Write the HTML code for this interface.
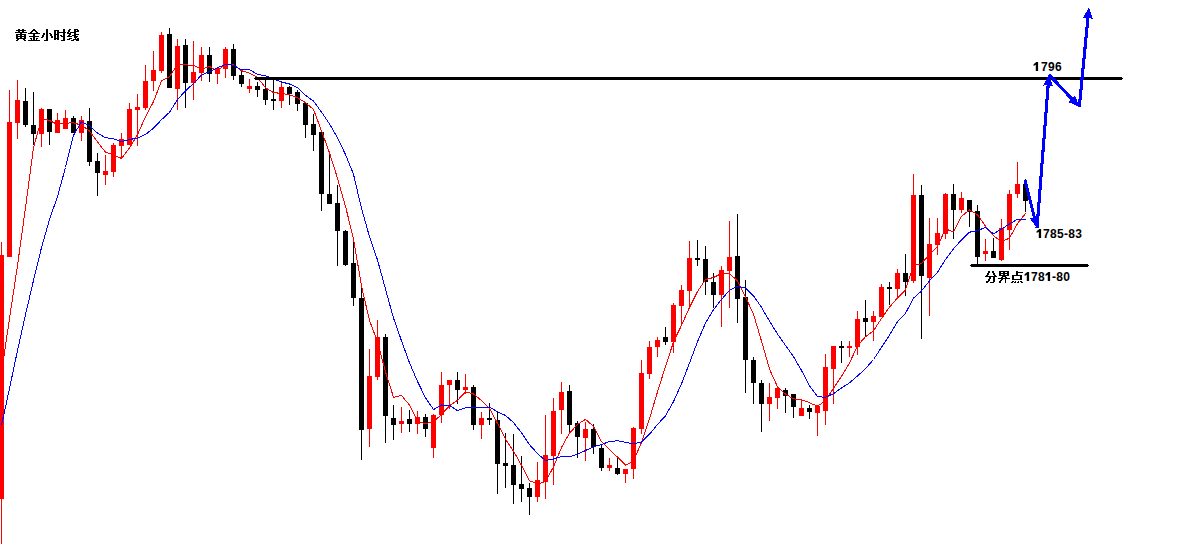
<!DOCTYPE html>
<html><head><meta charset="utf-8"><style>
html,body{margin:0;padding:0;background:#fff;width:1190px;height:553px;overflow:hidden}
svg{display:block;position:absolute;left:0;top:0}
.one{position:relative;color:transparent}
.one svg{position:absolute;left:0;top:0;overflow:visible;fill:#000}
.t{position:absolute;font-family:"Liberation Sans",sans-serif;font-weight:bold;font-size:12px;color:#000;line-height:12px;white-space:nowrap;letter-spacing:0.3px}
</style></head><body>
<svg width="1190" height="553" viewBox="0 0 1190 553" shape-rendering="crispEdges">
<rect width="1190" height="553" fill="#fff"/>
<rect x="1" y="242.0" width="1" height="302.0" fill="#f00"/>
<rect x="-1" y="255.0" width="5" height="244.0" fill="#f00"/>
<rect x="9" y="90.0" width="1" height="167.0" fill="#f00"/>
<rect x="7" y="122.0" width="5" height="135.0" fill="#f00"/>
<rect x="17" y="80.0" width="1" height="59.0" fill="#f00"/>
<rect x="15" y="100.0" width="5" height="23.0" fill="#f00"/>
<rect x="25" y="88.0" width="1" height="39.0" fill="#000"/>
<rect x="23" y="101.0" width="5" height="24.0" fill="#000"/>
<rect x="33" y="92.0" width="1" height="53.0" fill="#000"/>
<rect x="31" y="125.0" width="5" height="9.0" fill="#000"/>
<rect x="41" y="108.0" width="1" height="39.0" fill="#f00"/>
<rect x="39" y="109.0" width="5" height="25.0" fill="#f00"/>
<rect x="49" y="109.0" width="1" height="36.0" fill="#000"/>
<rect x="47" y="109.0" width="5" height="23.0" fill="#000"/>
<rect x="57" y="113.0" width="1" height="20.0" fill="#f00"/>
<rect x="55" y="120.0" width="5" height="13.0" fill="#f00"/>
<rect x="65" y="110.0" width="1" height="19.0" fill="#f00"/>
<rect x="63" y="118.0" width="5" height="11.0" fill="#f00"/>
<rect x="73" y="116.0" width="1" height="17.0" fill="#000"/>
<rect x="71" y="118.0" width="5" height="15.0" fill="#000"/>
<rect x="81" y="116.0" width="1" height="25.0" fill="#f00"/>
<rect x="79" y="120.0" width="5" height="13.0" fill="#f00"/>
<rect x="89" y="108.0" width="1" height="58.0" fill="#000"/>
<rect x="87" y="121.0" width="5" height="41.0" fill="#000"/>
<rect x="97" y="153.0" width="1" height="43.0" fill="#000"/>
<rect x="95" y="161.0" width="5" height="12.0" fill="#000"/>
<rect x="105" y="155.0" width="1" height="30.0" fill="#f00"/>
<rect x="103" y="171.0" width="5" height="4.0" fill="#f00"/>
<rect x="113" y="143.0" width="1" height="34.0" fill="#f00"/>
<rect x="111" y="145.0" width="5" height="27.0" fill="#f00"/>
<rect x="121" y="133.0" width="1" height="25.0" fill="#f00"/>
<rect x="119" y="139.0" width="5" height="7.0" fill="#f00"/>
<rect x="129" y="103.0" width="1" height="42.0" fill="#f00"/>
<rect x="127" y="109.0" width="5" height="36.0" fill="#f00"/>
<rect x="137" y="94.0" width="1" height="52.0" fill="#f00"/>
<rect x="135" y="107.0" width="5" height="3.0" fill="#f00"/>
<rect x="145" y="65.0" width="1" height="45.0" fill="#f00"/>
<rect x="143" y="81.0" width="5" height="27.0" fill="#f00"/>
<rect x="153" y="51.0" width="1" height="40.0" fill="#f00"/>
<rect x="151" y="70.0" width="5" height="11.0" fill="#f00"/>
<rect x="161" y="32.0" width="1" height="41.0" fill="#f00"/>
<rect x="159" y="35.0" width="5" height="36.0" fill="#f00"/>
<rect x="169" y="28.0" width="1" height="60.0" fill="#000"/>
<rect x="167" y="34.0" width="5" height="54.0" fill="#000"/>
<rect x="177" y="39.0" width="1" height="71.0" fill="#f00"/>
<rect x="175" y="46.0" width="5" height="43.0" fill="#f00"/>
<rect x="185" y="39.0" width="1" height="69.0" fill="#000"/>
<rect x="183" y="45.0" width="5" height="38.0" fill="#000"/>
<rect x="193" y="41.0" width="1" height="59.0" fill="#f00"/>
<rect x="191" y="72.0" width="5" height="11.0" fill="#f00"/>
<rect x="201" y="47.0" width="1" height="34.0" fill="#f00"/>
<rect x="199" y="55.0" width="5" height="18.0" fill="#f00"/>
<rect x="209" y="47.0" width="1" height="35.0" fill="#000"/>
<rect x="207" y="55.0" width="5" height="19.0" fill="#000"/>
<rect x="217" y="67.0" width="1" height="17.0" fill="#f00"/>
<rect x="215" y="68.0" width="5" height="6.0" fill="#f00"/>
<rect x="225" y="47.0" width="1" height="31.0" fill="#f00"/>
<rect x="223" y="49.0" width="5" height="20.0" fill="#f00"/>
<rect x="233" y="44.0" width="1" height="36.0" fill="#000"/>
<rect x="231" y="49.0" width="5" height="27.0" fill="#000"/>
<rect x="241" y="70.0" width="1" height="17.0" fill="#000"/>
<rect x="239" y="75.0" width="5" height="9.0" fill="#000"/>
<rect x="249" y="79.0" width="1" height="14.0" fill="#f00"/>
<rect x="247" y="86.0" width="5" height="3.0" fill="#f00"/>
<rect x="257" y="82.0" width="1" height="15.0" fill="#000"/>
<rect x="255" y="86.0" width="5" height="4.0" fill="#000"/>
<rect x="265" y="80.0" width="1" height="25.0" fill="#000"/>
<rect x="263" y="89.0" width="5" height="11.0" fill="#000"/>
<rect x="273" y="79.0" width="1" height="31.0" fill="#000"/>
<rect x="271" y="99.0" width="5" height="2.0" fill="#000"/>
<rect x="281" y="82.0" width="1" height="26.0" fill="#f00"/>
<rect x="279" y="87.0" width="5" height="14.0" fill="#f00"/>
<rect x="289" y="86.0" width="1" height="19.0" fill="#000"/>
<rect x="287" y="87.0" width="5" height="7.0" fill="#000"/>
<rect x="297" y="90.0" width="1" height="21.0" fill="#000"/>
<rect x="295" y="92.0" width="5" height="12.0" fill="#000"/>
<rect x="305" y="102.0" width="1" height="36.0" fill="#000"/>
<rect x="303" y="103.0" width="5" height="22.0" fill="#000"/>
<rect x="313" y="114.0" width="1" height="37.0" fill="#000"/>
<rect x="311" y="124.0" width="5" height="11.0" fill="#000"/>
<rect x="321" y="132.0" width="1" height="79.0" fill="#000"/>
<rect x="319" y="132.0" width="5" height="62.0" fill="#000"/>
<rect x="329" y="155.0" width="1" height="49.0" fill="#000"/>
<rect x="327" y="194.0" width="5" height="10.0" fill="#000"/>
<rect x="337" y="185.0" width="1" height="81.0" fill="#000"/>
<rect x="335" y="203.0" width="5" height="28.0" fill="#000"/>
<rect x="345" y="230.0" width="1" height="36.0" fill="#000"/>
<rect x="343" y="231.0" width="5" height="34.0" fill="#000"/>
<rect x="353" y="241.0" width="1" height="65.0" fill="#000"/>
<rect x="351" y="263.0" width="5" height="35.0" fill="#000"/>
<rect x="361" y="287.0" width="1" height="173.0" fill="#000"/>
<rect x="359" y="298.0" width="5" height="132.0" fill="#000"/>
<rect x="369" y="349.0" width="1" height="98.0" fill="#f00"/>
<rect x="367" y="376.0" width="5" height="53.0" fill="#f00"/>
<rect x="377" y="320.0" width="1" height="60.0" fill="#f00"/>
<rect x="375" y="337.0" width="5" height="40.0" fill="#f00"/>
<rect x="385" y="334.0" width="1" height="109.0" fill="#000"/>
<rect x="383" y="337.0" width="5" height="79.0" fill="#000"/>
<rect x="393" y="405.0" width="1" height="35.0" fill="#000"/>
<rect x="391" y="418.0" width="5" height="7.0" fill="#000"/>
<rect x="401" y="407.0" width="1" height="26.0" fill="#f00"/>
<rect x="399" y="421.0" width="5" height="3.0" fill="#f00"/>
<rect x="409" y="410.0" width="1" height="22.0" fill="#000"/>
<rect x="407" y="419.0" width="5" height="5.0" fill="#000"/>
<rect x="417" y="411.0" width="1" height="23.0" fill="#f00"/>
<rect x="415" y="417.0" width="5" height="7.0" fill="#f00"/>
<rect x="425" y="414.0" width="1" height="23.0" fill="#000"/>
<rect x="423" y="417.0" width="5" height="12.0" fill="#000"/>
<rect x="433" y="414.0" width="1" height="44.0" fill="#f00"/>
<rect x="431" y="415.0" width="5" height="33.0" fill="#f00"/>
<rect x="441" y="372.0" width="1" height="51.0" fill="#f00"/>
<rect x="439" y="385.0" width="5" height="30.0" fill="#f00"/>
<rect x="449" y="380.0" width="1" height="29.0" fill="#f00"/>
<rect x="447" y="380.0" width="5" height="5.0" fill="#f00"/>
<rect x="457" y="372.0" width="1" height="32.0" fill="#000"/>
<rect x="455" y="380.0" width="5" height="10.0" fill="#000"/>
<rect x="465" y="374.0" width="1" height="20.0" fill="#f00"/>
<rect x="463" y="387.0" width="5" height="3.0" fill="#f00"/>
<rect x="473" y="385.0" width="1" height="45.0" fill="#000"/>
<rect x="471" y="387.0" width="5" height="38.0" fill="#000"/>
<rect x="481" y="412.0" width="1" height="27.0" fill="#f00"/>
<rect x="479" y="418.0" width="5" height="7.0" fill="#f00"/>
<rect x="489" y="403.0" width="1" height="22.0" fill="#000"/>
<rect x="487" y="418.0" width="5" height="2.0" fill="#000"/>
<rect x="497" y="412.0" width="1" height="82.0" fill="#000"/>
<rect x="495" y="420.0" width="5" height="44.0" fill="#000"/>
<rect x="505" y="433.0" width="1" height="55.0" fill="#000"/>
<rect x="503" y="463.0" width="5" height="3.0" fill="#000"/>
<rect x="513" y="434.0" width="1" height="70.0" fill="#000"/>
<rect x="511" y="465.0" width="5" height="20.0" fill="#000"/>
<rect x="521" y="456.0" width="1" height="46.0" fill="#000"/>
<rect x="519" y="484.0" width="5" height="5.0" fill="#000"/>
<rect x="529" y="483.0" width="1" height="32.0" fill="#000"/>
<rect x="527" y="488.0" width="5" height="9.0" fill="#000"/>
<rect x="537" y="462.0" width="1" height="40.0" fill="#f00"/>
<rect x="535" y="480.0" width="5" height="17.0" fill="#f00"/>
<rect x="545" y="415.0" width="1" height="84.0" fill="#f00"/>
<rect x="543" y="455.0" width="5" height="27.0" fill="#f00"/>
<rect x="553" y="398.0" width="1" height="87.0" fill="#f00"/>
<rect x="551" y="411.0" width="5" height="45.0" fill="#f00"/>
<rect x="561" y="382.0" width="1" height="52.0" fill="#f00"/>
<rect x="559" y="392.0" width="5" height="18.0" fill="#f00"/>
<rect x="569" y="385.0" width="1" height="47.0" fill="#000"/>
<rect x="567" y="391.0" width="5" height="34.0" fill="#000"/>
<rect x="577" y="421.0" width="1" height="37.0" fill="#000"/>
<rect x="575" y="423.0" width="5" height="14.0" fill="#000"/>
<rect x="585" y="422.0" width="1" height="39.0" fill="#f00"/>
<rect x="583" y="429.0" width="5" height="9.0" fill="#f00"/>
<rect x="593" y="424.0" width="1" height="30.0" fill="#000"/>
<rect x="591" y="429.0" width="5" height="18.0" fill="#000"/>
<rect x="601" y="444.0" width="1" height="27.0" fill="#000"/>
<rect x="599" y="448.0" width="5" height="20.0" fill="#000"/>
<rect x="609" y="458.0" width="1" height="13.0" fill="#f00"/>
<rect x="607" y="465.0" width="5" height="3.0" fill="#f00"/>
<rect x="617" y="456.0" width="1" height="19.0" fill="#000"/>
<rect x="615" y="468.0" width="5" height="6.0" fill="#000"/>
<rect x="625" y="469.0" width="1" height="14.0" fill="#f00"/>
<rect x="623" y="469.0" width="5" height="5.0" fill="#f00"/>
<rect x="633" y="427.0" width="1" height="52.0" fill="#f00"/>
<rect x="631" y="428.0" width="5" height="41.0" fill="#f00"/>
<rect x="641" y="360.0" width="1" height="74.0" fill="#f00"/>
<rect x="639" y="373.0" width="5" height="56.0" fill="#f00"/>
<rect x="649" y="341.0" width="1" height="38.0" fill="#f00"/>
<rect x="647" y="347.0" width="5" height="27.0" fill="#f00"/>
<rect x="657" y="337.0" width="1" height="20.0" fill="#f00"/>
<rect x="655" y="340.0" width="5" height="7.0" fill="#f00"/>
<rect x="665" y="327.0" width="1" height="18.0" fill="#000"/>
<rect x="663" y="337.0" width="5" height="5.0" fill="#000"/>
<rect x="673" y="303.0" width="1" height="50.0" fill="#f00"/>
<rect x="671" y="305.0" width="5" height="37.0" fill="#f00"/>
<rect x="681" y="285.0" width="1" height="41.0" fill="#f00"/>
<rect x="679" y="290.0" width="5" height="16.0" fill="#f00"/>
<rect x="689" y="241.0" width="1" height="66.0" fill="#f00"/>
<rect x="687" y="258.0" width="5" height="33.0" fill="#f00"/>
<rect x="697" y="240.0" width="1" height="26.0" fill="#000"/>
<rect x="695" y="258.0" width="5" height="2.0" fill="#000"/>
<rect x="705" y="246.0" width="1" height="49.0" fill="#000"/>
<rect x="703" y="259.0" width="5" height="23.0" fill="#000"/>
<rect x="713" y="273.0" width="1" height="35.0" fill="#000"/>
<rect x="711" y="282.0" width="5" height="13.0" fill="#000"/>
<rect x="721" y="266.0" width="1" height="61.0" fill="#f00"/>
<rect x="719" y="270.0" width="5" height="25.0" fill="#f00"/>
<rect x="729" y="221.0" width="1" height="87.0" fill="#f00"/>
<rect x="727" y="257.0" width="5" height="14.0" fill="#f00"/>
<rect x="737" y="214.0" width="1" height="109.0" fill="#000"/>
<rect x="735" y="256.0" width="5" height="43.0" fill="#000"/>
<rect x="745" y="280.0" width="1" height="113.0" fill="#000"/>
<rect x="743" y="297.0" width="5" height="63.0" fill="#000"/>
<rect x="753" y="357.0" width="1" height="47.0" fill="#000"/>
<rect x="751" y="360.0" width="5" height="23.0" fill="#000"/>
<rect x="761" y="380.0" width="1" height="52.0" fill="#000"/>
<rect x="759" y="383.0" width="5" height="21.0" fill="#000"/>
<rect x="769" y="383.0" width="1" height="38.0" fill="#f00"/>
<rect x="767" y="397.0" width="5" height="7.0" fill="#f00"/>
<rect x="777" y="387.0" width="1" height="22.0" fill="#f00"/>
<rect x="775" y="388.0" width="5" height="10.0" fill="#f00"/>
<rect x="785" y="388.0" width="1" height="25.0" fill="#000"/>
<rect x="783" y="390.0" width="5" height="6.0" fill="#000"/>
<rect x="793" y="394.0" width="1" height="24.0" fill="#000"/>
<rect x="791" y="394.0" width="5" height="13.0" fill="#000"/>
<rect x="801" y="400.0" width="1" height="16.0" fill="#f00"/>
<rect x="799" y="408.0" width="5" height="8.0" fill="#f00"/>
<rect x="809" y="405.0" width="1" height="14.0" fill="#000"/>
<rect x="807" y="408.0" width="5" height="4.0" fill="#000"/>
<rect x="817" y="405.0" width="1" height="31.0" fill="#f00"/>
<rect x="815" y="406.0" width="5" height="7.0" fill="#f00"/>
<rect x="825" y="354.0" width="1" height="71.0" fill="#f00"/>
<rect x="823" y="367.0" width="5" height="44.0" fill="#f00"/>
<rect x="833" y="346.0" width="1" height="58.0" fill="#f00"/>
<rect x="831" y="346.0" width="5" height="23.0" fill="#f00"/>
<rect x="841" y="341.0" width="1" height="22.0" fill="#000"/>
<rect x="839" y="346.0" width="5" height="2.0" fill="#000"/>
<rect x="849" y="341.0" width="1" height="16.0" fill="#f00"/>
<rect x="847" y="346.0" width="5" height="2.0" fill="#f00"/>
<rect x="857" y="311.0" width="1" height="44.0" fill="#f00"/>
<rect x="855" y="319.0" width="5" height="28.0" fill="#f00"/>
<rect x="865" y="300.0" width="1" height="36.0" fill="#000"/>
<rect x="863" y="318.0" width="5" height="4.0" fill="#000"/>
<rect x="873" y="311.0" width="1" height="30.0" fill="#f00"/>
<rect x="871" y="316.0" width="5" height="6.0" fill="#f00"/>
<rect x="881" y="284.0" width="1" height="33.0" fill="#f00"/>
<rect x="879" y="287.0" width="5" height="30.0" fill="#f00"/>
<rect x="889" y="282.0" width="1" height="23.0" fill="#000"/>
<rect x="887" y="287.0" width="5" height="2.0" fill="#000"/>
<rect x="897" y="269.0" width="1" height="30.0" fill="#f00"/>
<rect x="895" y="273.0" width="5" height="16.0" fill="#f00"/>
<rect x="905" y="254.0" width="1" height="42.0" fill="#000"/>
<rect x="903" y="273.0" width="5" height="9.0" fill="#000"/>
<rect x="913" y="174.0" width="1" height="109.0" fill="#f00"/>
<rect x="911" y="195.0" width="5" height="86.0" fill="#f00"/>
<rect x="921" y="185.0" width="1" height="154.0" fill="#000"/>
<rect x="919" y="195.0" width="5" height="81.0" fill="#000"/>
<rect x="929" y="218.0" width="1" height="98.0" fill="#f00"/>
<rect x="927" y="244.0" width="5" height="34.0" fill="#f00"/>
<rect x="937" y="218.0" width="1" height="37.0" fill="#f00"/>
<rect x="935" y="233.0" width="5" height="12.0" fill="#f00"/>
<rect x="945" y="193.0" width="1" height="46.0" fill="#f00"/>
<rect x="943" y="194.0" width="5" height="40.0" fill="#f00"/>
<rect x="953" y="184.0" width="1" height="55.0" fill="#000"/>
<rect x="951" y="194.0" width="5" height="16.0" fill="#000"/>
<rect x="961" y="192.0" width="1" height="21.0" fill="#f00"/>
<rect x="959" y="198.0" width="5" height="12.0" fill="#f00"/>
<rect x="969" y="200.0" width="1" height="27.0" fill="#000"/>
<rect x="967" y="200.0" width="5" height="12.0" fill="#000"/>
<rect x="977" y="205.0" width="1" height="59.0" fill="#000"/>
<rect x="975" y="211.0" width="5" height="46.0" fill="#000"/>
<rect x="985" y="239.0" width="1" height="22.0" fill="#f00"/>
<rect x="983" y="251.0" width="5" height="3.0" fill="#f00"/>
<rect x="993" y="238.0" width="1" height="20.0" fill="#000"/>
<rect x="991" y="251.0" width="5" height="7.0" fill="#000"/>
<rect x="1001" y="219.0" width="1" height="42.0" fill="#f00"/>
<rect x="999" y="228.0" width="5" height="32.0" fill="#f00"/>
<rect x="1009" y="190.0" width="1" height="60.0" fill="#f00"/>
<rect x="1007" y="194.0" width="5" height="36.0" fill="#f00"/>
<rect x="1017" y="162.0" width="1" height="36.0" fill="#f00"/>
<rect x="1015" y="184.0" width="5" height="10.0" fill="#f00"/>
<rect x="1025" y="179.0" width="1" height="33.0" fill="#000"/>
<rect x="1023" y="184.0" width="5" height="17.0" fill="#000"/>
<polyline points="1.5,372.5 9.5,318.5 17.5,265.5 25.5,207.5 33.5,147.7 41.5,118.5 49.5,120.5 57.5,124.5 65.5,123.1 73.5,122.9 81.5,125.1 89.5,131.1 97.5,141.7 105.5,152.3 113.5,154.7 121.5,158.5 129.5,147.9 137.5,134.7 145.5,116.7 153.5,101.7 161.5,80.9 169.5,76.7 177.5,64.5 185.5,64.9 193.5,65.3 201.5,69.3 209.5,66.5 217.5,70.9 225.5,64.1 233.5,64.9 241.5,70.7 249.5,73.1 257.5,77.5 265.5,87.7 273.5,92.7 281.5,93.3 289.5,94.9 297.5,97.7 305.5,102.7 313.5,109.5 321.5,130.9 329.5,152.9 337.5,178.3 345.5,206.3 353.5,238.9 361.5,286.1 369.5,320.5 377.5,341.7 385.5,371.9 393.5,397.3 401.5,395.5 409.5,405.1 417.5,421.1 425.5,423.7 433.5,421.7 441.5,414.5 449.5,405.7 457.5,400.3 465.5,391.9 473.5,393.9 481.5,400.5 489.5,408.5 497.5,423.3 505.5,439.1 513.5,451.1 521.5,465.3 529.5,480.7 537.5,483.9 545.5,481.7 553.5,466.9 561.5,447.5 569.5,433.1 577.5,424.5 585.5,419.3 593.5,426.5 601.5,441.7 609.5,449.7 617.5,457.1 625.5,465.1 633.5,461.3 641.5,442.3 649.5,418.7 657.5,391.9 665.5,366.5 673.5,341.9 681.5,325.3 689.5,307.5 697.5,291.5 705.5,279.5 713.5,277.5 721.5,273.5 729.5,273.3 737.5,281.1 745.5,296.7 753.5,314.3 761.5,341.1 769.5,369.1 777.5,386.9 785.5,394.1 793.5,398.9 801.5,399.7 809.5,402.7 817.5,406.3 825.5,400.5 833.5,388.3 841.5,376.3 849.5,363.1 857.5,345.7 865.5,336.7 873.5,330.7 881.5,318.5 889.5,307.1 897.5,297.9 905.5,289.9 913.5,265.7 921.5,263.5 929.5,254.5 937.5,246.5 945.5,228.9 953.5,231.9 961.5,216.3 969.5,209.9 977.5,214.7 985.5,226.1 993.5,235.7 1001.5,241.7 1009.5,238.1 1017.5,223.5 1025.5,213.5" fill="none" stroke="#f00" stroke-width="1" shape-rendering="crispEdges"/>
<polyline points="1.5,425.5 9.5,388.5 17.5,350.5 25.5,314.5 33.5,280.5 41.5,247.5 49.5,219.5 57.5,196.5 65.5,167.5 73.5,135.3 81.5,121.8 89.5,125.8 97.5,133.1 105.5,137.7 113.5,138.8 121.5,141.8 129.5,139.5 137.5,138.2 145.5,134.5 153.5,128.2 161.5,119.7 169.5,112.3 177.5,99.6 185.5,90.8 193.5,83.5 201.5,75.1 209.5,71.6 217.5,67.7 225.5,64.5 233.5,65.1 241.5,70.0 249.5,69.8 257.5,74.2 265.5,75.9 273.5,78.8 281.5,82.0 289.5,84.0 297.5,87.6 305.5,95.2 313.5,101.1 321.5,112.1 329.5,123.9 337.5,138.0 345.5,154.5 353.5,174.2 361.5,208.5 369.5,236.7 377.5,260.0 385.5,289.1 393.5,318.1 401.5,340.8 409.5,362.8 417.5,381.4 425.5,397.8 433.5,409.5 441.5,405.0 449.5,405.4 457.5,410.7 465.5,407.8 473.5,407.8 481.5,407.5 489.5,407.1 497.5,411.8 505.5,415.5 513.5,422.5 521.5,432.9 529.5,444.6 537.5,453.6 545.5,460.4 553.5,459.0 561.5,456.4 569.5,456.9 577.5,454.2 585.5,450.5 593.5,446.7 601.5,444.6 609.5,441.4 617.5,440.8 625.5,442.2 633.5,443.9 641.5,442.0 649.5,434.2 657.5,424.5 665.5,415.8 673.5,401.6 681.5,383.8 689.5,363.1 697.5,341.7 705.5,323.0 713.5,309.7 721.5,299.4 729.5,290.4 737.5,286.3 745.5,288.1 753.5,295.9 761.5,307.3 769.5,321.2 777.5,334.0 785.5,345.4 793.5,356.6 801.5,370.4 809.5,385.9 817.5,396.6 825.5,397.3 833.5,393.6 841.5,388.0 849.5,382.9 857.5,376.0 865.5,368.6 873.5,359.5 881.5,347.4 889.5,335.1 897.5,321.8 905.5,313.3 913.5,298.2 921.5,291.0 929.5,280.8 937.5,272.2 945.5,259.4 953.5,248.8 961.5,239.9 969.5,232.2 977.5,230.6 985.5,227.5 993.5,233.8 1001.5,229.0 1009.5,224.0 1017.5,219.1 1025.5,219.8" fill="none" stroke="#00f" stroke-width="1" shape-rendering="crispEdges"/>
<rect x="255" y="77" width="867" height="3"/><rect x="254" y="78" width="869" height="1"/>
<rect x="971" y="264" width="117" height="3"/><rect x="970" y="265" width="119" height="1"/>
<line x1="1025" y1="180" x2="1034.6959115621548" y2="218.78364624861933" stroke="#00f" stroke-width="3.1" shape-rendering="crispEdges"/><polygon points="1037,228 1029.5541563113845,218.00753224850308 1034.4533759371184,217.813503748474 1038.8675243127798,215.67919024815427" fill="#00f" shape-rendering="crispEdges"/>
<line x1="1037" y1="228" x2="1048.2595880469164" y2="83.97110289985972" stroke="#00f" stroke-width="3.1" shape-rendering="crispEdges"/><polygon points="1049,74.5 1052.8891112061965,86.33912218138815 1048.181649946592,84.96806109984495 1043.318312486338,85.5909164182722" fill="#00f" shape-rendering="crispEdges"/>
<line x1="1049" y1="74.5" x2="1072.8217864282371" y2="100.05142108639284" stroke="#00f" stroke-width="3.1" shape-rendering="crispEdges"/><polygon points="1079.3,107 1067.9470910673065,101.86176501452421 1072.1398692101568,99.31999172706577 1074.9688129168464,95.3153597209532" fill="#00f" shape-rendering="crispEdges"/>
<line x1="1079.3" y1="107" x2="1088.082804842262" y2="16.45562018286595" stroke="#00f" stroke-width="3.1" shape-rendering="crispEdges"/><polygon points="1089,7 1092.6672876382916,18.909701985273774 1087.9862579835526,17.45094862316763 1083.1121346113953,17.982852141664846" fill="#00f" shape-rendering="crispEdges"/>
<g fill="#000"><rect x="18" y="29" width="2" height="1"/><rect x="22" y="29" width="2" height="1"/><rect x="16" y="30" width="10" height="1"/><rect x="18" y="31" width="2" height="1"/><rect x="22" y="31" width="2" height="1"/><rect x="15" y="32" width="12" height="1"/><rect x="20" y="33" width="2" height="1"/><rect x="16" y="34" width="10" height="1"/><rect x="16" y="35" width="2" height="1"/><rect x="20" y="35" width="2" height="1"/><rect x="24" y="35" width="2" height="1"/><rect x="16" y="36" width="10" height="1"/><rect x="16" y="37" width="2" height="1"/><rect x="20" y="37" width="2" height="1"/><rect x="24" y="37" width="2" height="1"/><rect x="16" y="38" width="10" height="1"/><rect x="17" y="39" width="2" height="1"/><rect x="23" y="39" width="2" height="1"/><rect x="16" y="40" width="2" height="1"/><rect x="24" y="40" width="2" height="1"/><rect x="33" y="29" width="2" height="1"/><rect x="32" y="30" width="4" height="1"/><rect x="31" y="31" width="2" height="1"/><rect x="35" y="31" width="2" height="1"/><rect x="30" y="32" width="2" height="1"/><rect x="36" y="32" width="2" height="1"/><rect x="28" y="33" width="12" height="1"/><rect x="33" y="34" width="2" height="1"/><rect x="33" y="35" width="2" height="1"/><rect x="29" y="36" width="10" height="1"/><rect x="33" y="37" width="2" height="1"/><rect x="30" y="38" width="2" height="1"/><rect x="33" y="38" width="2" height="1"/><rect x="36" y="38" width="2" height="1"/><rect x="31" y="39" width="1" height="1"/><rect x="33" y="39" width="2" height="1"/><rect x="36" y="39" width="1" height="1"/><rect x="28" y="40" width="12" height="1"/><rect x="46" y="29" width="2" height="1"/><rect x="46" y="30" width="2" height="1"/><rect x="46" y="31" width="2" height="1"/><rect x="46" y="32" width="2" height="1"/><rect x="43" y="33" width="2" height="1"/><rect x="46" y="33" width="2" height="1"/><rect x="49" y="33" width="2" height="1"/><rect x="43" y="34" width="2" height="1"/><rect x="46" y="34" width="2" height="1"/><rect x="50" y="34" width="2" height="1"/><rect x="42" y="35" width="2" height="1"/><rect x="46" y="35" width="2" height="1"/><rect x="50" y="35" width="2" height="1"/><rect x="42" y="36" width="2" height="1"/><rect x="46" y="36" width="2" height="1"/><rect x="51" y="36" width="2" height="1"/><rect x="41" y="37" width="2" height="1"/><rect x="46" y="37" width="2" height="1"/><rect x="51" y="37" width="2" height="1"/><rect x="46" y="38" width="2" height="1"/><rect x="46" y="39" width="2" height="1"/><rect x="44" y="40" width="4" height="1"/><rect x="63" y="29" width="2" height="1"/><rect x="54" y="30" width="5" height="1"/><rect x="63" y="30" width="2" height="1"/><rect x="54" y="31" width="2" height="1"/><rect x="57" y="31" width="2" height="1"/><rect x="63" y="31" width="2" height="1"/><rect x="54" y="32" width="2" height="1"/><rect x="57" y="32" width="9" height="1"/><rect x="54" y="33" width="2" height="1"/><rect x="57" y="33" width="2" height="1"/><rect x="63" y="33" width="2" height="1"/><rect x="54" y="34" width="5" height="1"/><rect x="63" y="34" width="2" height="1"/><rect x="54" y="35" width="2" height="1"/><rect x="57" y="35" width="2" height="1"/><rect x="60" y="35" width="2" height="1"/><rect x="63" y="35" width="2" height="1"/><rect x="54" y="36" width="2" height="1"/><rect x="57" y="36" width="2" height="1"/><rect x="61" y="36" width="4" height="1"/><rect x="54" y="37" width="2" height="1"/><rect x="57" y="37" width="2" height="1"/><rect x="63" y="37" width="2" height="1"/><rect x="54" y="38" width="5" height="1"/><rect x="63" y="38" width="2" height="1"/><rect x="54" y="39" width="2" height="1"/><rect x="57" y="39" width="2" height="1"/><rect x="63" y="39" width="2" height="1"/><rect x="61" y="40" width="4" height="1"/><rect x="69" y="29" width="2" height="1"/><rect x="74" y="29" width="4" height="1"/><rect x="68" y="30" width="2" height="1"/><rect x="74" y="30" width="2" height="1"/><rect x="77" y="30" width="2" height="1"/><rect x="68" y="31" width="2" height="1"/><rect x="74" y="31" width="5" height="1"/><rect x="67" y="32" width="2" height="1"/><rect x="70" y="32" width="6" height="1"/><rect x="67" y="33" width="4" height="1"/><rect x="74" y="33" width="2" height="1"/><rect x="69" y="34" width="2" height="1"/><rect x="74" y="34" width="5" height="1"/><rect x="68" y="35" width="2" height="1"/><rect x="72" y="35" width="4" height="1"/><rect x="67" y="36" width="5" height="1"/><rect x="74" y="36" width="4" height="1"/><rect x="74" y="37" width="3" height="1"/><rect x="69" y="38" width="3" height="1"/><rect x="75" y="38" width="1" height="1"/><rect x="77" y="38" width="2" height="1"/><rect x="67" y="39" width="3" height="1"/><rect x="73" y="39" width="6" height="1"/><rect x="71" y="40" width="3" height="1"/><rect x="76" y="40" width="3" height="1"/><rect x="988" y="271" width="2" height="1"/><rect x="992" y="271" width="2" height="1"/><rect x="988" y="272" width="2" height="1"/><rect x="992" y="272" width="2" height="1"/><rect x="987" y="273" width="2" height="1"/><rect x="993" y="273" width="2" height="1"/><rect x="987" y="274" width="2" height="1"/><rect x="993" y="274" width="2" height="1"/><rect x="986" y="275" width="2" height="1"/><rect x="994" y="275" width="2" height="1"/><rect x="985" y="276" width="12" height="1"/><rect x="989" y="277" width="2" height="1"/><rect x="993" y="277" width="2" height="1"/><rect x="989" y="278" width="2" height="1"/><rect x="993" y="278" width="2" height="1"/><rect x="988" y="279" width="2" height="1"/><rect x="993" y="279" width="2" height="1"/><rect x="988" y="280" width="2" height="1"/><rect x="993" y="280" width="2" height="1"/><rect x="986" y="281" width="3" height="1"/><rect x="993" y="281" width="2" height="1"/><rect x="986" y="282" width="2" height="1"/><rect x="990" y="282" width="4" height="1"/><rect x="999" y="271" width="10" height="1"/><rect x="999" y="272" width="2" height="1"/><rect x="1003" y="272" width="2" height="1"/><rect x="1007" y="272" width="2" height="1"/><rect x="999" y="273" width="10" height="1"/><rect x="999" y="274" width="2" height="1"/><rect x="1003" y="274" width="2" height="1"/><rect x="1007" y="274" width="2" height="1"/><rect x="999" y="275" width="10" height="1"/><rect x="1002" y="276" width="4" height="1"/><rect x="1001" y="277" width="2" height="1"/><rect x="1005" y="277" width="2" height="1"/><rect x="998" y="278" width="12" height="1"/><rect x="1001" y="279" width="2" height="1"/><rect x="1005" y="279" width="1" height="1"/><rect x="1000" y="280" width="2" height="1"/><rect x="1005" y="280" width="1" height="1"/><rect x="999" y="281" width="2" height="1"/><rect x="1005" y="281" width="1" height="1"/><rect x="999" y="282" width="2" height="1"/><rect x="1005" y="282" width="1" height="1"/><rect x="1016" y="271" width="2" height="1"/><rect x="1016" y="272" width="7" height="1"/><rect x="1016" y="273" width="2" height="1"/><rect x="1016" y="274" width="2" height="1"/><rect x="1012" y="275" width="10" height="1"/><rect x="1012" y="276" width="2" height="1"/><rect x="1020" y="276" width="2" height="1"/><rect x="1012" y="277" width="2" height="1"/><rect x="1020" y="277" width="2" height="1"/><rect x="1012" y="278" width="2" height="1"/><rect x="1020" y="278" width="2" height="1"/><rect x="1012" y="279" width="10" height="1"/><rect x="1012" y="281" width="2" height="1"/><rect x="1015" y="281" width="1" height="1"/><rect x="1018" y="281" width="1" height="1"/><rect x="1020" y="281" width="2" height="1"/><rect x="1011" y="282" width="2" height="1"/><rect x="1014" y="282" width="2" height="1"/><rect x="1017" y="282" width="2" height="1"/><rect x="1021" y="282" width="2" height="1"/></g>
</svg>
<div class="t" style="left:1034px;top:61px"><span class="one">1<svg width="7" height="13" viewBox="0 0 7 13"><path d="M1.8,10.9 L1.8,4.7 L-0.4,6.1 L-0.4,4.2 L2.3,1.9 L4.1,1.9 L4.1,10.9 Z"/></svg></span>796</div>
<div class="t" style="left:1036px;top:228px"><span class="one">1<svg style="left:1px" width="7" height="13" viewBox="0 0 7 13"><path d="M1.8,10.9 L1.8,4.7 L-0.4,6.1 L-0.4,4.2 L2.3,1.9 L4.1,1.9 L4.1,10.9 Z"/></svg></span>785-83</div>
<div class="t" style="left:1024px;top:271px"><span class="one">1<svg style="left:0.7px" width="7" height="13" viewBox="0 0 7 13"><path d="M1.8,10.9 L1.8,4.7 L-0.4,6.1 L-0.4,4.2 L2.3,1.9 L4.1,1.9 L4.1,10.9 Z"/></svg></span>78<span class="one">1<svg style="left:0.7px" width="7" height="13" viewBox="0 0 7 13"><path d="M1.8,10.9 L1.8,4.7 L-0.4,6.1 L-0.4,4.2 L2.3,1.9 L4.1,1.9 L4.1,10.9 Z"/></svg></span>-80</div>
</body></html>
